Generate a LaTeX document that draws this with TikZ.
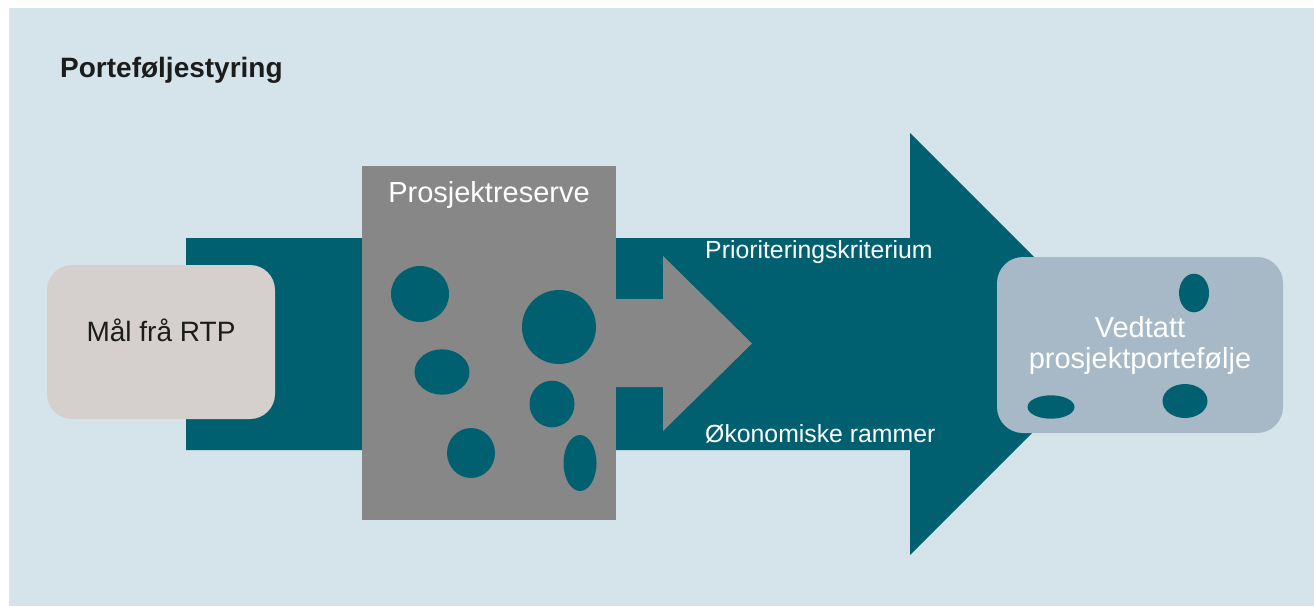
\documentclass[tikz,border=0pt]{standalone}
\usepackage{fontspec}
\setmainfont{Liberation Sans}
\usetikzlibrary{positioning}
\definecolor{bgblue}{HTML}{D5E3EA}
\definecolor{flowteal}{HTML}{006070}
\definecolor{reservegray}{HTML}{878787}
\definecolor{goalbeige}{HTML}{D5CFCD}
\definecolor{portblue}{HTML}{A7B9C6}
\definecolor{titleblack}{HTML}{1C1C1C}
\tikzset{
	bigfont/.style={font=\fontsize{28}{30}\selectfont},
	widefont/.style={font=\fontsize{29}{31}\selectfont},
	smallfont/.style={font=\fontsize{24.8}{28}\selectfont},
	goal/.style={rectangle, rounded corners=25pt, fill=goalbeige, minimum width=228pt, minimum height=154pt, text height=20pt, text depth=22pt, bigfont, text=titleblack},
	reservebox/.style={rectangle, fill=reservegray, minimum width=254pt, minimum height=354pt},
	portfolio/.style={rectangle, rounded corners=26pt, fill=portblue, minimum width=286pt, minimum height=176pt, align=center, widefont, text=white},
	project/.style={fill=flowteal},
	flowlabel/.style={anchor=base west, inner sep=0, smallfont, text=white},
}

\begin{document}
\begin{tikzpicture}[x=1pt, y=-1pt]
	\useasboundingbox (0,0) rectangle (1314,606);
	\fill[bgblue] (9,8) rectangle (1314,606);
	\node[anchor=base west, inner sep=0, font=\bfseries\fontsize{28}{30}\selectfont, text=titleblack] (title) at (60,77) {Porteføljestyring};

	\fill[flowteal] (186,238) -- (910,238) -- (910,133) -- (1121,344) -- (910,555) -- (910,450) -- (186,450) -- cycle;

	\node[goal] (goal) at (161,342) {Mål frå RTP};
	\node[reservebox] (reserve) at (489,343) {};
	\fill[reservegray] (612,299) -- (663,299) -- (663,256) -- (752,343.5) -- (663,431) -- (663,387) -- (612,387) -- cycle;
	\node[below=15.5pt of reserve.north, inner sep=0, widefont, text=white] (reservetitle) {Prosjektreserve};

	\fill[project] (420,294) ellipse [x radius=29pt, y radius=28pt];
	\fill[project] (559,327) ellipse [x radius=37pt, y radius=37pt];
	\fill[project] (442,372) ellipse [x radius=27.5pt, y radius=22.7pt];
	\fill[project] (552,404) ellipse [x radius=22.5pt, y radius=23.3pt];
	\fill[project] (471,453) ellipse [x radius=24pt, y radius=25pt];
	\fill[project] (580,463) ellipse [x radius=16.5pt, y radius=28pt];

	\node[flowlabel] (criteria) at (705,258) {Prioriteringskriterium};
	\node[flowlabel] (budget) at (705,442.5) {Økonomiske rammer};

	\node[portfolio] (portfolio) at (1140,345) {Vedtatt\\prosjektportefølje};
	\fill[project] (1194,293) ellipse [x radius=15pt, y radius=19.3pt];
	\fill[project] (1051,407) ellipse [x radius=23.5pt, y radius=11.7pt];
	\fill[project] (1185,401) ellipse [x radius=22.5pt, y radius=17pt];
\end{tikzpicture}
\end{document}
